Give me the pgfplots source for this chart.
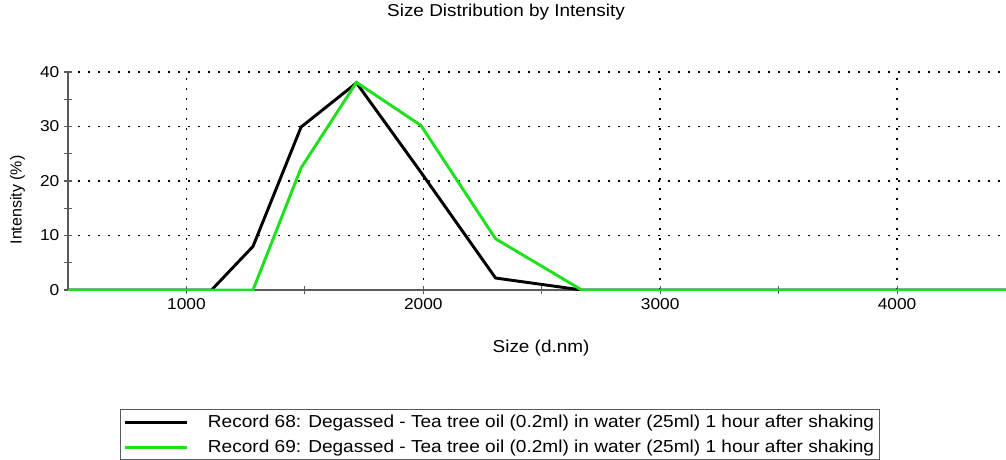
\documentclass[border=0pt]{standalone}
\usepackage{fontspec}
\setmainfont{Liberation Sans}
\setsansfont{Liberation Sans}
\newfontfamily\wide{Liberation Sans}[FakeStretch=1.1]
\usepackage{pgfplots}
\pgfplotsset{compat=1.18}
\definecolor{recgreen}{RGB}{30,225,30}
\definecolor{axgray}{RGB}{90,90,90}

\begin{document}
\begin{tikzpicture}
\useasboundingbox (-51pt,-127.5pt) rectangle (703.5pt,217.5pt);
\clip (-51pt,-127.5pt) rectangle (703.5pt,217.5pt);
\begin{axis}[
    at={(0pt,0pt)}, anchor=south west,
    scale only axis, width=703.5pt, height=163.5pt,
    xmin=500, xmax=4460, ymin=0, ymax=40,
    axis x line=bottom, axis y line=left,
    axis line style={-, axgray, line width=0.8pt},
    xtick={1000,2000,3000,4000}, minor xtick={1500,2500,3500},
    ytick={0,10,20,30,40}, minor ytick={5,15,25,35},
    tick align=center, major tick length=6pt, minor tick length=6pt,
    tick style={axgray, line width=0.8pt},
    xmajorgrids, ymajorgrids,
    major grid style={black, line width=1.2pt, dash pattern=on 1.2pt off 6.3pt},
    /pgf/number format/assume math mode=true,
    scaled x ticks=false,
    xticklabel style={font=\wide\fontsize{11.8}{14}\selectfont, /pgf/number format/1000 sep={}},
    yticklabel style={font=\wide\fontsize{11.8}{14}\selectfont},
    title={Size Distribution by Intensity},
    title style={font=\wide\fontsize{12.9}{15}\selectfont, at={(axis description cs:0.467,1.2385)}, anchor=center},
    xlabel={Size (d.nm)},
    xlabel style={font=\wide\fontsize{12.9}{15}\selectfont, at={(axis description cs:0.5043,-0.266)}, anchor=center},
    ylabel={Intensity (\%)},
    ylabel style={font=\fontsize{12}{14}\selectfont, at={(axis description cs:-0.0538,0.413)}, anchor=center},
    legend cell align=left,
    legend style={at={(axis description cs:0.0554,-0.546)}, anchor=north west,
        draw=axgray, line width=0.6pt, font=\wide\fontsize{13}{15}\selectfont,
        row sep=4pt, column sep=12.5pt, inner sep=2pt},
    legend image code/.code={\draw[#1] (0pt,0pt) -- (47pt,0pt);},
]
\addplot[black, line width=2.2pt] coordinates {
(458.7,0) (531.2,0) (615.1,0) (712.4,0) (825,0) (955.4,0) (1106,0)
(1281,8.0) (1484,29.9) (1718,38.0) (1990,21.6) (2305,2.2) (2669,0)
(3091,0) (3580,0) (4145,0) (4801,0)};
\addlegendentry{Record 68: Degassed - Tea tree oil (0.2ml) in water (25ml) 1 hour after shaking}
\addplot[recgreen, line width=2.2pt] coordinates {
(458.7,0) (531.2,0) (615.1,0) (712.4,0) (825,0) (955.4,0) (1106,0)
(1281,0) (1484,22.4) (1718,38.1) (1990,30.2) (2305,9.4) (2669,0)
(3091,0) (3580,0) (4145,0) (4801,0)};
\addlegendentry{Record 69: Degassed - Tea tree oil (0.2ml) in water (25ml) 1 hour after shaking}
\end{axis}
\end{tikzpicture}
\end{document}
